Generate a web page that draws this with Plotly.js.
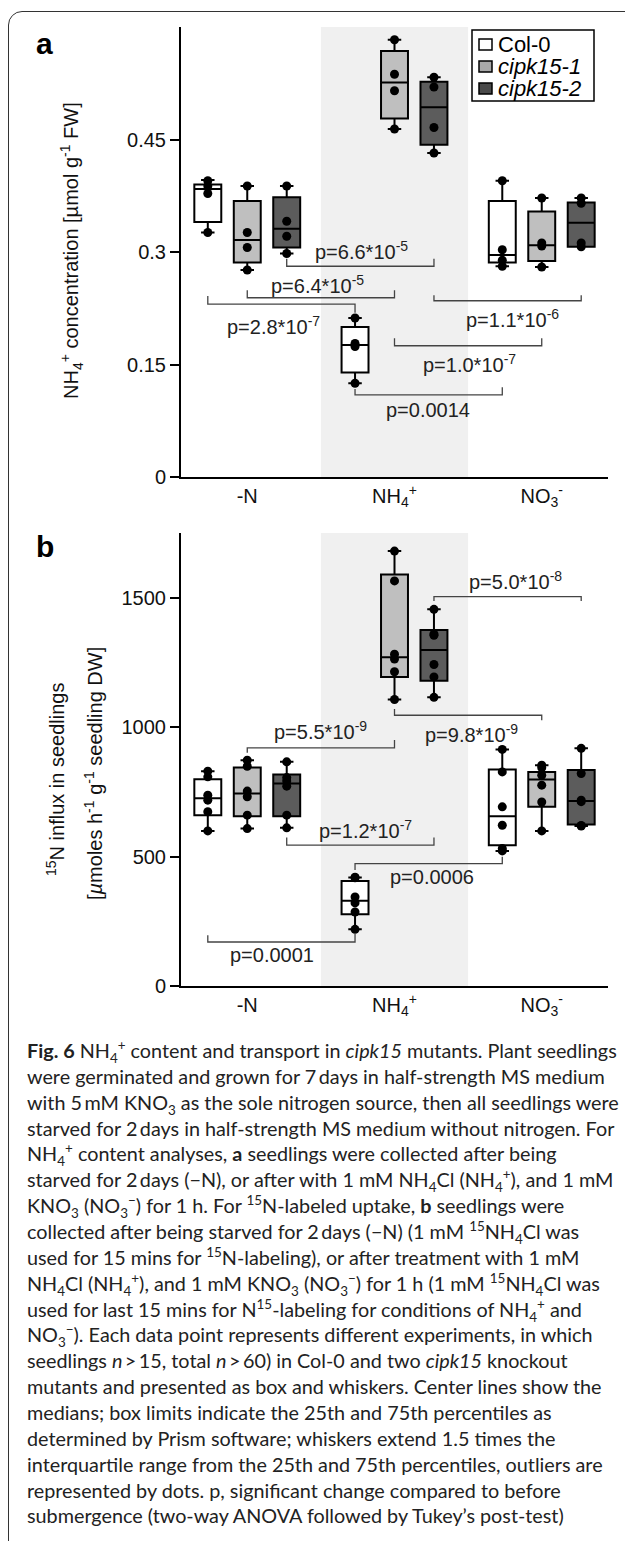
<!DOCTYPE html>
<html><head><meta charset="utf-8">
<script src="https://cdn.plot.ly/plotly-3.0.1.min.js"></script>
<style>
html,body{margin:0;padding:0;background:#fff;}
#wrap{position:relative;width:625px;height:1541px;overflow:hidden;background:#fff;}
#frame{position:absolute;left:8px;top:11px;width:700px;height:1600px;border:1.5px solid #333;border-radius:14px;}
#chart{position:absolute;left:0;top:0;width:625px;height:1030px;}
#caption{position:absolute;left:0;top:0;width:625px;height:1541px;font-family:Lato,"Open Sans",sans-serif;font-size:19.8px;color:#222;}
#caption div{position:absolute;white-space:nowrap;height:26px;line-height:26px;}
#caption sub,#caption sup{font-size:68%;line-height:0;}
</style></head>
<body>
<div id="wrap">
  <div id="frame"></div>
  <div id="chart"></div>
  <div id="caption"></div>
</div>
<script>
// ---------------- DATA ----------------
const conditions = ['-N', 'NH<sub>4</sub><sup>+</sup>', 'NO<sub>3</sub><sup>-</sup>'];
const strains = ['Col-0', '<i>cipk15-1</i>', '<i>cipk15-2</i>'];

// Panel a: NH4+ concentration [µmol g-1 FW]; one list per condition (-N, NH4+, NO3-)
const aCol0Points  = [[0.326, 0.378, 0.388, 0.395], [0.125, 0.174, 0.178, 0.212], [0.281, 0.289, 0.303, 0.395]];
const aCipk1Points = [[0.276, 0.306, 0.326, 0.388], [0.464, 0.515, 0.537, 0.583], [0.280, 0.308, 0.312, 0.372]];
const aCipk2Points = [[0.298, 0.321, 0.341, 0.388], [0.432, 0.466, 0.520, 0.533], [0.307, 0.312, 0.365, 0.372]];
// box statistics (Prism) per condition
const aCol0Low  = [0.326, 0.125, 0.281], aCol0Q1  = [0.340, 0.1395, 0.286], aCol0Med  = [0.384, 0.176, 0.296], aCol0Q3  = [0.390, 0.200, 0.368], aCol0High  = [0.396, 0.212, 0.395];
const aCipk1Low = [0.276, 0.464, 0.280], aCipk1Q1 = [0.286, 0.478, 0.288],  aCipk1Med = [0.316, 0.526, 0.309], aCipk1Q3 = [0.368, 0.568, 0.354], aCipk1High = [0.388, 0.583, 0.372];
const aCipk2Low = [0.298, 0.432, 0.307], aCipk2Q1 = [0.306, 0.443, 0.307],  aCipk2Med = [0.331, 0.493, 0.339], aCipk2Q3 = [0.373, 0.527, 0.366], aCipk2High = [0.388, 0.533, 0.372];

// Panel b: 15N influx [µmoles h-1 g-1 seedling DW]
const bCol0Points  = [[599, 673, 718, 737, 808, 830], [219, 286, 321, 344, 418, 420], [522, 531, 621, 692, 827, 914]];
const bCipk1Points = [[608, 660, 731, 753, 849, 872], [1107, 1214, 1263, 1282, 1565, 1680], [599, 711, 776, 814, 843, 853]];
const bCipk2Points = [[611, 660, 772, 792, 805, 866], [1115, 1194, 1242, 1355, 1360, 1455], [618, 620, 712, 718, 821, 918]];
const bCol0Low  = [599, 219, 522],  bCol0Q1  = [660, 277, 544],  bCol0Med  = [725, 329, 656],  bCol0Q3  = [799, 406, 836],  bCol0High  = [830, 419, 914];
const bCipk1Low = [608, 1107, 599], bCipk1Q1 = [656, 1194, 692], bCipk1Med = [744, 1270, 798], bCipk1Q3 = [844, 1590, 827], bCipk1High = [872, 1680, 853];
const bCipk2Low = [611, 1115, 618], bCipk2Q1 = [656, 1179, 624], bCipk2Med = [782, 1298, 715], bCipk2Q3 = [817, 1375, 834], bCipk2High = [866, 1455, 918];

const aTickVals = [0, 0.15, 0.3, 0.45], aTickText = ['0', '0.15', '0.3', '0.45'];
const bTickVals = [0, 500, 1000, 1500], bTickText = ['0', '500', '1000', '1500'];

// significance brackets: from (condition, strain) to (condition, strain), line level, end levels, label and label centre
const aBrackets = [
  {c0:0, s0:2, c1:1, s1:2, y:0.281, e0:0.291, e1:0.291, text:'p=6.6*10<sup>-5</sup>', lx:0.775, ly:0.302},
  {c0:0, s0:1, c1:1, s1:1, y:0.239, e0:0.249, e1:0.249, text:'p=6.4*10<sup>-5</sup>', lx:0.477, ly:0.256},
  {c0:0, s0:0, c1:1, s1:0, y:0.2306, e0:0.2414, e1:0.219, text:'p=2.8*10<sup>-7</sup>', lx:0.175, ly:0.202},
  {c0:1, s0:2, c1:2, s1:2, y:0.235, e0:0.2425, e1:0.2425, text:'p=1.1*10<sup>-6</sup>', lx:1.80, ly:0.211},
  {c0:1, s0:1, c1:2, s1:1, y:0.175, e0:0.185, e1:0.185, text:'p=1.0*10<sup>-7</sup>', lx:1.51, ly:0.151},
  {c0:1, s0:0, c1:2, s1:0, y:0.1096, e0:0.1175, e1:0.1197, text:'p=0.0014', lx:1.23, ly:0.0887}
];
const bBrackets = [
  {c0:1, s0:2, c1:2, s1:2, y:1504, e0:1487, e1:1487, text:'p=5.0*10<sup>-8</sup>', lx:1.82, ly:1568},
  {c0:1, s0:1, c1:2, s1:1, y:1046, e0:1070, e1:1027, text:'p=9.8*10<sup>-9</sup>', lx:1.52, ly:977},
  {c0:0, s0:1, c1:1, s1:1, y:920, e0:901, e1:950, text:'p=5.5*10<sup>-9</sup>', lx:0.498, ly:988},
  {c0:0, s0:2, c1:1, s1:2, y:544, e0:574, e1:574, text:'p=1.2*10<sup>-7</sup>', lx:0.80, ly:606},
  {c0:1, s0:0, c1:2, s1:0, y:473, e0:448, e1:499, text:'p=0.0006', lx:1.257, ly:420},
  {c0:0, s0:0, c1:1, s1:0, y:170, e0:196, e1:203, text:'p=0.0001', lx:0.167, ly:119}
];

const captionLines = [
  '<b>Fig. 6</b> NH<sub>4</sub><sup>+</sup> content and transport in <i>cipk15</i> mutants. Plant seedlings',
  'were germinated and grown for 7&#8201;days in half-strength MS medium',
  'with 5&#8201;mM KNO<sub>3</sub> as the sole nitrogen source, then all seedlings were',
  'starved for 2&#8201;days in half-strength MS medium without nitrogen. For',
  'NH<sub>4</sub><sup>+</sup> content analyses, <b>a</b> seedlings were collected after being',
  'starved for 2&#8201;days (&minus;N), or after with 1 mM NH<sub>4</sub>Cl (NH<sub>4</sub><sup>+</sup>), and 1 mM',
  'KNO<sub>3</sub> (NO<sub>3</sub><sup>&minus;</sup>) for 1 h. For <sup>15</sup>N-labeled uptake, <b>b</b> seedlings were',
  'collected after being starved for 2&#8201;days (&minus;N) (1 mM <sup>15</sup>NH<sub>4</sub>Cl was',
  'used for 15 mins for <sup>15</sup>N-labeling), or after treatment with 1 mM',
  'NH<sub>4</sub>Cl (NH<sub>4</sub><sup>+</sup>), and 1 mM KNO<sub>3</sub> (NO<sub>3</sub><sup>&minus;</sup>) for 1 h (1 mM <sup>15</sup>NH<sub>4</sub>Cl was',
  'used for last 15 mins for N<sup>15</sup>-labeling for conditions of NH<sub>4</sub><sup>+</sup> and',
  'NO<sub>3</sub><sup>&minus;</sup>). Each data point represents different experiments, in which',
  'seedlings <i>n</i>&#8201;&gt;&#8201;15, total <i>n</i>&#8201;&gt;&#8201;60) in Col-0 and two <i>cipk15</i> knockout',
  'mutants and presented as box and whiskers. Center lines show the',
  'medians; box limits indicate the 25th and 75th percentiles as',
  'determined by Prism software; whiskers extend 1.5 times the',
  'interquartile range from the 25th and 75th percentiles, outliers are',
  'represented by dots. p, significant change compared to before',
  'submergence (two-way ANOVA followed by Tukey&#8217;s post-test)'
];

// ---------------- LAYOUT HELPERS ----------------
const W = 625, H = 1030;
const fx = px => px / W, fy = py => 1 - py / H;
const OFF = 0.268, BOXW = 0.183;
const pos = (c, s) => c + (s - 1) * OFF;
const fills = ['#ffffff', '#bfbfbf', '#5c5c5c'];
const legendFills = ['#ffffff', '#a8a8a8', '#4a4a4a'];
const FONT = 'Liberation Sans, Arial, sans-serif';
const XRANGE = [-0.45, 2.45];

function boxTrace(si, low, q1, med, q3, high, xa, ya) {
  return {
    type: 'box', name: strains[si], showlegend: false,
    x: [0, 1, 2].map(c => pos(c, si)),
    lowerfence: low, q1: q1, median: med, q3: q3, upperfence: high,
    width: BOXW, whiskerwidth: 0.5, boxpoints: false,
    fillcolor: fills[si], line: {color: '#000', width: 2},
    xaxis: xa, yaxis: ya, hoverinfo: 'skip'
  };
}
function dotTrace(si, pts, xa, ya) {
  const xs = [], ys = [];
  pts.forEach((list, c) => list.forEach(v => { xs.push(pos(c, si)); ys.push(v); }));
  return {type: 'scatter', mode: 'markers', name: strains[si], x: xs, y: ys, showlegend: false,
    marker: {color: '#000', size: 9}, xaxis: xa, yaxis: ya, cliponaxis: false, hoverinfo: 'skip'};
}

const traces = [
  boxTrace(0, aCol0Low, aCol0Q1, aCol0Med, aCol0Q3, aCol0High, 'x', 'y'),
  boxTrace(1, aCipk1Low, aCipk1Q1, aCipk1Med, aCipk1Q3, aCipk1High, 'x', 'y'),
  boxTrace(2, aCipk2Low, aCipk2Q1, aCipk2Med, aCipk2Q3, aCipk2High, 'x', 'y'),
  dotTrace(0, aCol0Points, 'x', 'y'), dotTrace(1, aCipk1Points, 'x', 'y'), dotTrace(2, aCipk2Points, 'x', 'y'),
  boxTrace(0, bCol0Low, bCol0Q1, bCol0Med, bCol0Q3, bCol0High, 'x2', 'y2'),
  boxTrace(1, bCipk1Low, bCipk1Q1, bCipk1Med, bCipk1Q3, bCipk1High, 'x2', 'y2'),
  boxTrace(2, bCipk2Low, bCipk2Q1, bCipk2Med, bCipk2Q3, bCipk2High, 'x2', 'y2'),
  dotTrace(0, bCol0Points, 'x2', 'y2'), dotTrace(1, bCipk1Points, 'x2', 'y2'), dotTrace(2, bCipk2Points, 'x2', 'y2')
];

const xDom = [fx(181), fx(608)];
const labelAxis = (anchor) => ({
  domain: xDom, anchor: anchor, range: XRANGE, tickvals: [0, 1, 2], ticktext: conditions,
  ticks: '', showline: true, linecolor: '#000', linewidth: 2, showgrid: false, zeroline: false,
  tickfont: {size: 20, color: '#111'}
});
const tickAxis = (over, anchor) => ({
  domain: xDom, anchor: anchor, overlaying: over, range: XRANGE, tickvals: [0.5, 1.5],
  ticks: 'outside', ticklen: 6, tickwidth: 2, tickcolor: '#000', showticklabels: false,
  showline: false, showgrid: false, zeroline: false
});
const yAxis = (dom, range, tv, tt) => ({
  domain: dom, range: range, tickvals: tv, ticktext: tt, ticks: 'outside', ticklen: 9, tickwidth: 2,
  tickcolor: '#000', showline: true, linecolor: '#000', linewidth: 2, showgrid: false, zeroline: false,
  tickfont: {size: 20, color: '#111'}
});

const shapes = [
  {type: 'rect', xref: 'x', yref: 'y domain', x0: 0.5, x1: 1.5, y0: 0, y1: 1, fillcolor: '#f0f0f0', line: {width: 0}, layer: 'below'},
  {type: 'rect', xref: 'x2', yref: 'y2 domain', x0: 0.5, x1: 1.5, y0: 0, y1: 1, fillcolor: '#f0f0f0', line: {width: 0}, layer: 'below'}
];
const annotations = [];
function addBrackets(list, xr, yr) {
  list.forEach(b => {
    const x0 = pos(b.c0, b.s0), x1 = pos(b.c1, b.s1);
    shapes.push({type: 'path', xref: xr, yref: yr,
      path: `M ${x0},${b.e0} L ${x0},${b.y} L ${x1},${b.y} L ${x1},${b.e1}`,
      line: {color: '#444', width: 1.3}});
    annotations.push({xref: xr, yref: yr, x: b.lx, y: b.ly, text: b.text, showarrow: false,
      xanchor: 'center', yanchor: 'middle', font: {size: 20, color: '#222'}});
  });
}
addBrackets(aBrackets, 'x', 'y');
addBrackets(bBrackets, 'x2', 'y2');

// legend (panel a): frame, colour keys and names
const legendRows = [44.5, 66.5, 88.5];
shapes.push({type: 'rect', xref: 'paper', yref: 'paper', x0: fx(472), x1: fx(594), y0: fy(101), y1: fy(30),
  fillcolor: '#fff', line: {color: '#000', width: 1.5}});
strains.forEach((s, i) => {
  shapes.push({type: 'rect', xref: 'paper', yref: 'paper', x0: fx(479), x1: fx(492),
    y0: fy(legendRows[i] + 5.5), y1: fy(legendRows[i] - 5.5), fillcolor: legendFills[i], line: {color: '#000', width: 1.5}});
  annotations.push({xref: 'paper', yref: 'paper', x: fx(497), y: fy(legendRows[i]), xanchor: 'left', yanchor: 'middle',
    text: s, showarrow: false, borderpad: 0, font: {size: 22, color: '#000'}});
});

annotations.push(
  {xref: 'paper', yref: 'paper', x: fx(44), y: fy(43), xanchor: 'center', yanchor: 'middle', text: '<b>a</b>', showarrow: false, font: {size: 30, color: '#000'}},
  {xref: 'paper', yref: 'paper', x: fx(45), y: fy(546), xanchor: 'center', yanchor: 'middle', text: '<b>b</b>', showarrow: false, font: {size: 30, color: '#000'}},
  {xref: 'paper', yref: 'paper', x: fx(72), y: fy(251), xanchor: 'center', yanchor: 'middle', textangle: -90, showarrow: false,
   text: 'NH<sub>4</sub><sup>+</sup> concentration [µmol g<sup>-1</sup> FW]', font: {size: 20, color: '#111'}},
  {xref: 'paper', yref: 'paper', x: fx(55), y: fy(780), xanchor: 'center', yanchor: 'middle', textangle: -90, showarrow: false,
   text: '<sup>15</sup>N influx in seedlings', font: {size: 20, color: '#111'}},
  {xref: 'paper', yref: 'paper', x: fx(93), y: fy(773), xanchor: 'center', yanchor: 'middle', textangle: -90, showarrow: false,
   text: '[<i>µ</i>moles h<sup>-1</sup> g<sup>-1</sup> seedling DW]', font: {size: 20, color: '#111'}}
);

const layout = {
  width: W, height: H, margin: {l: 0, r: 0, t: 0, b: 0},
  paper_bgcolor: 'rgba(0,0,0,0)', plot_bgcolor: 'rgba(0,0,0,0)',
  font: {family: FONT, size: 20, color: '#111'},
  boxmode: 'overlay', showlegend: false,
  xaxis: labelAxis('y'), xaxis3: tickAxis('x', 'y'),
  xaxis2: labelAxis('y2'), xaxis4: tickAxis('x2', 'y2'),
  yaxis: yAxis([fy(477), fy(27)], [0, 0.6], aTickVals, aTickText),
  yaxis2: yAxis([fy(986), fy(533)], [0, 1750], bTickVals, bTickText),
  shapes: shapes, annotations: annotations
};

Plotly.newPlot('chart', traces, layout, {staticPlot: true, displayModeBar: false});

const CAP_LEFT = 27, CAP_TOP = 1037, CAP_PITCH = 25.85;
document.getElementById('caption').innerHTML = captionLines.map((l, i) =>
  '<div style="left:' + CAP_LEFT + 'px;top:' + (CAP_TOP + i * CAP_PITCH).toFixed(1) + 'px">' + l + '</div>').join('');
</script>
</body></html>
